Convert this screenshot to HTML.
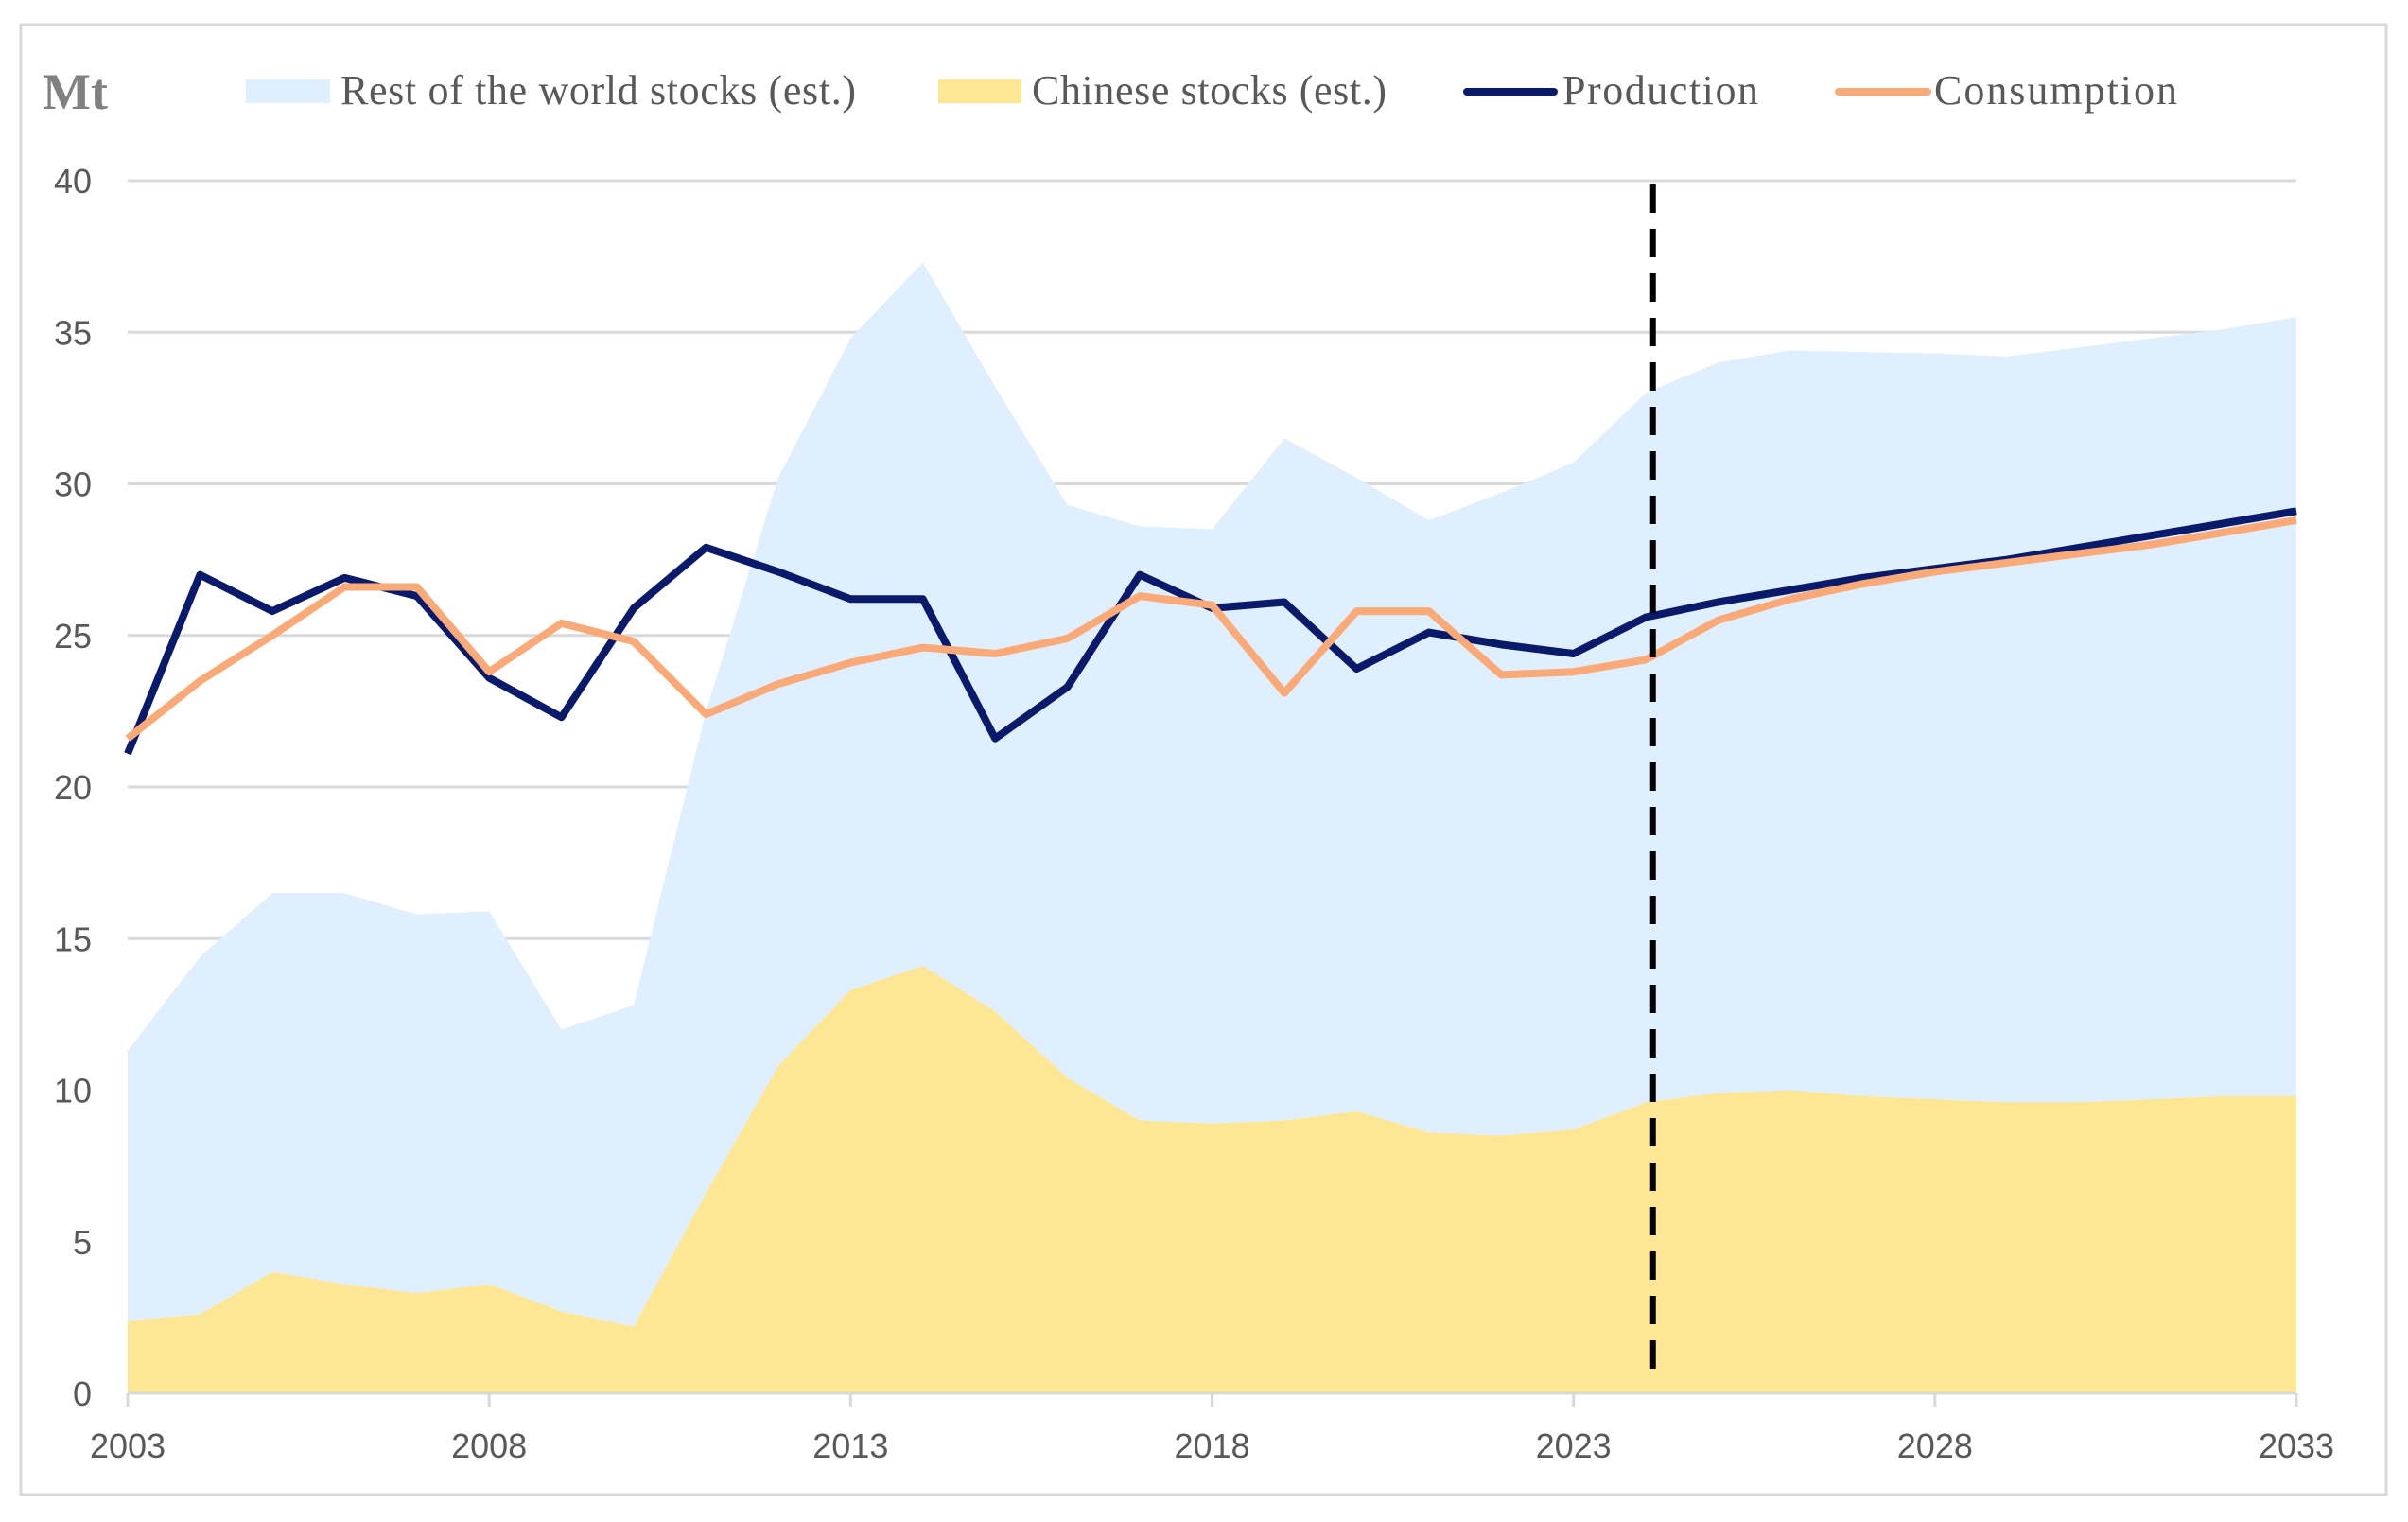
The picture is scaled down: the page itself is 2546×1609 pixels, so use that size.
<!DOCTYPE html>
<html><head><meta charset="utf-8"><style>
html,body{margin:0;padding:0;background:#fff;}
svg{display:block;}
.tick{font-family:"Liberation Sans",sans-serif;font-size:36px;fill:#595959;}
.leg{font-family:"Liberation Serif",serif;font-size:44px;fill:#595959;}
</style></head><body>
<svg id="chart" width="2546" height="1609" viewBox="0 0 2546 1609">
<rect x="22" y="26" width="2501" height="1554" fill="#fff" stroke="#d9d9d9" stroke-width="3"/>
<text x="45" y="115" font-family="Liberation Serif,serif" font-weight="bold" font-size="54" fill="#808080">Mt</text>
<g>
<g><rect x="260" y="84" width="89" height="25" fill="#dfeffd"/><text class="leg" x="360" y="110" textLength="545">Rest of the world stocks (est.)</text></g>
<g><rect x="992" y="84" width="88" height="25" fill="#fde694"/><text class="leg" x="1091" y="110" textLength="375">Chinese stocks (est.)</text></g>
<g><line x1="1551" y1="97" x2="1643" y2="97" stroke="#0a1a6b" stroke-width="8" stroke-linecap="round"/><text class="leg" x="1652" y="110" textLength="207">Production</text></g>
<g><line x1="1944" y1="97" x2="2038" y2="97" stroke="#f9aa78" stroke-width="8" stroke-linecap="round"/><text class="leg" x="2045" y="110" textLength="257">Consumption</text></g>
</g>
<g id="grid"></g><g id="areas"></g><g id="lines"></g><g id="axes"></g>
</svg>
<script>
const years=[2003,2004,2005,2006,2007,2008,2009,2010,2011,2012,2013,2014,2015,2016,2017,2018,2019,2020,2021,2022,2023,2024,2025,2026,2027,2028,2029,2030,2031,2032,2033];
const chineseStocks=[2.4,2.6,4.0,3.6,3.3,3.6,2.7,2.2,6.6,10.8,13.3,14.1,12.6,10.4,9.0,8.9,9.0,9.3,8.6,8.5,8.7,9.6,9.9,10.0,9.8,9.7,9.6,9.6,9.7,9.8,9.8];
const restStocks=[8.9,11.8,12.5,12.9,12.5,12.3,9.3,10.6,15.9,19.4,21.5,23.2,20.6,18.9,19.6,19.6,22.5,20.9,20.2,21.2,22.0,23.4,24.1,24.4,24.55,24.6,24.6,24.9,25.1,25.3,25.7];
const production=[21.1,27.0,25.8,26.9,26.3,23.6,22.3,25.9,27.9,27.1,26.2,26.2,21.6,23.3,27.0,25.9,26.1,23.9,25.1,24.7,24.4,25.6,26.1,26.5,26.9,27.2,27.5,27.9,28.3,28.7,29.1];
const consumption=[21.6,23.5,25.0,26.6,26.6,23.8,25.4,24.8,22.4,23.4,24.1,24.6,24.4,24.9,26.3,26.0,23.1,25.8,25.8,23.7,23.8,24.2,25.5,26.2,26.7,27.1,27.4,27.7,28.0,28.4,28.8];
const yTicks=[0,5,10,15,20,25,30,35,40];
const xTickLabels=[2003,2008,2013,2018,2023,2028,2033];
const forecastStart=2024.1;

const NS="http://www.w3.org/2000/svg";
const X0=135,X1=2428,Y0=1473,Y1=191;
const xs=y=>X0+(y-2003)/(2033-2003)*(X1-X0);
const ys=v=>Y0-v/40*(Y0-Y1);
function mk(tag,attrs,parent){const e=document.createElementNS(NS,tag);for(const k in attrs)e.setAttribute(k,attrs[k]);parent.appendChild(e);return e;}
const grid=document.getElementById('grid'),areas=document.getElementById('areas'),lines=document.getElementById('lines'),axes=document.getElementById('axes');
yTicks.forEach(t=>{
 if(t>0){const l=mk('line',{x1:X0,x2:X1,y1:ys(t),y2:ys(t),stroke:'#d9d9d9','stroke-width':3},grid);
 
 }
 const tx=mk('text',{x:97,y:ys(t)+13,'text-anchor':'end',class:'tick'},axes);tx.textContent=t;
 
 
});
const totals=restStocks.map((r,i)=>r+chineseStocks[i]);
function areaPath(top,bottom){let d='';years.forEach((y,i)=>{d+=(i?'L':'M')+xs(y)+','+ys(top[i]);});for(let i=years.length-1;i>=0;i--)d+='L'+xs(years[i])+','+ys(bottom[i]);return d+'Z';}
const restA=mk('path',{d:areaPath(totals,chineseStocks),fill:'#dfeffd'},areas);


const chA=mk('path',{d:areaPath(chineseStocks,years.map(()=>0)),fill:'#fde694'},areas);


function linePath(v){return years.map((y,i)=>(i?'L':'M')+xs(y)+','+ys(v[i])).join('');}
const pl=mk('path',{d:linePath(production),fill:'none',stroke:'#0a1a6b','stroke-width':8,'stroke-linejoin':'round'},lines);


const cl=mk('path',{d:linePath(consumption),fill:'none',stroke:'#f9aa78','stroke-width':8,'stroke-linejoin':'round'},lines);


const dl=mk('line',{x1:xs(forecastStart),x2:xs(forecastStart),y1:195,y2:1450,stroke:'#000','stroke-width':6,'stroke-dasharray':'30,17'},lines);


const ax=mk('line',{x1:X0,x2:X1,y1:Y0,y2:Y0,stroke:'#d9d9d9','stroke-width':3},axes);


xTickLabels.forEach(t=>{
 const tk=mk('line',{x1:xs(t),x2:xs(t),y1:Y0,y2:Y0+14,stroke:'#d9d9d9','stroke-width':3},axes);
 
 
 const tx=mk('text',{x:xs(t),y:1541,'text-anchor':'middle',class:'tick'},axes);tx.textContent=t;
 
 
});
</script>
</body></html>
